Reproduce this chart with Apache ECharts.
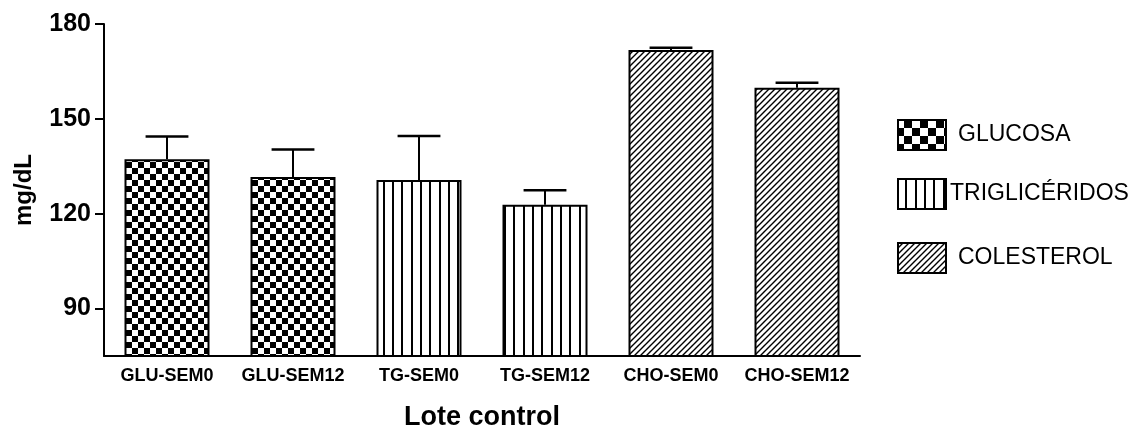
<!DOCTYPE html>
<html><head><meta charset="utf-8">
<script src="https://cdn.jsdelivr.net/npm/echarts@6/dist/echarts.min.js"></script>
<style>html,body{margin:0;padding:0;background:#fff}#c{width:1135px;height:426px}</style>
</head><body><div id="c"></div>
<script>
const categories = ['GLU-SEM0','GLU-SEM12','TG-SEM0','TG-SEM12','CHO-SEM0','CHO-SEM12'];
const groups = ['GLUCOSA','GLUCOSA','TRIGLICÉRIDOS','TRIGLICÉRIDOS','COLESTEROL','COLESTEROL'];
const seriesNames = ['GLUCOSA','TRIGLICÉRIDOS','COLESTEROL'];
const means = [137.2, 131.6, 130.7, 122.8, 171.8, 159.8];
const errorTop = [144.4, 140.3, 144.6, 127.4, 172.5, 161.4];
const yTicks = [90, 120, 150, 180];
const yMin = 75, yMax = 180;

const FONT = '"Liberation Sans", Arial, sans-serif';

function mk(w, h) { const c = document.createElement('canvas'); c.width = w; c.height = h; const x = c.getContext('2d'); x.fillStyle = '#fff'; x.fillRect(0, 0, w, h); return [c, x]; }
function checker(cell) {
  const [c, x] = mk(cell * 2, cell * 2);
  x.fillStyle = '#000'; x.fillRect(0, 0, cell, cell); x.fillRect(cell, cell, cell, cell);
  return c;
}
function vlines() {
  const [c, x] = mk(28, 4);
  x.fillStyle = '#000'; [0, 9, 19].forEach(p => x.fillRect(p, 0, 2, 4));
  return c;
}
function hatch() {
  const [c, x] = mk(6, 6);
  x.strokeStyle = '#000'; x.lineWidth = 1.4; x.beginPath();
  x.moveTo(0, 6); x.lineTo(6, 0); x.moveTo(-1, 1); x.lineTo(1, -1); x.moveTo(5, 7); x.lineTo(7, 5);
  x.stroke();
  return c;
}
const patterns = {
  'GLUCOSA': { image: checker(6), repeat: 'repeat' },
  'TRIGLICÉRIDOS': { image: vlines(), repeat: 'repeat' },
  'COLESTEROL': { image: hatch(), repeat: 'repeat' }
};
const legendPatterns = {
  'GLUCOSA': { image: checker(8), repeat: 'repeat' },
  'TRIGLICÉRIDOS': { image: vlines(), repeat: 'repeat' },
  'COLESTEROL': { image: hatch(), repeat: 'repeat' }
};

const barSeries = seriesNames.map(name => ({
  name, type: 'bar', barWidth: 85, barGap: '-100%',
  data: means.map((v, i) => groups[i] === name ? v : null),
  itemStyle: { color: patterns[name], borderColor: '#000', borderWidth: 2 },
  emphasis: { disabled: true }, z: 2
}));

const errSeries = {
  type: 'custom', z: 3,
  data: means.map((m, i) => [i, m, errorTop[i]]),
  encode: { x: 0, y: [1, 2] },
  renderItem(params, api) {
    const i = api.value(0);
    const b = api.coord([i, api.value(1)]);
    const t = api.coord([i, api.value(2)]);
    const hw = api.size([1, 0])[0] * 0.17;
    return { type: 'group', children: [
      { type: 'line', shape: { x1: b[0], y1: b[1], x2: t[0], y2: t[1] }, style: { stroke: '#000', lineWidth: 2 } },
      { type: 'line', shape: { x1: t[0] - hw, y1: t[1], x2: t[0] + hw, y2: t[1] }, style: { stroke: '#000', lineWidth: 2.5 } }
    ]};
  }
};

const legendY = [120, 179, 243];
const legendTextX = [958, 950, 958];
const legendGraphics = [];
seriesNames.forEach((name, k) => {
  legendGraphics.push({ type: 'rect', shape: { x: 898, y: legendY[k], width: 48, height: 30 },
    style: { fill: legendPatterns[name], stroke: '#000', lineWidth: 2 } });
  legendGraphics.push({ type: 'text', x: legendTextX[k], y: legendY[k] + 15,
    style: { text: name, font: '23px ' + FONT, fill: '#000', textVerticalAlign: 'middle', textAlign: 'left' } });
});

const chart = echarts.init(document.getElementById('c'), null, { renderer: 'canvas' });
chart.setOption({
  animation: false,
  backgroundColor: '#fff',
  grid: { left: 104, right: 275, top: 24, bottom: 70, outerBoundsMode: 'none', containLabel: false },
  xAxis: {
    type: 'category', data: categories,
    axisLine: { onZero: false, lineStyle: { color: '#000', width: 2 } },
    axisTick: { alignWithLabel: true, length: 8, lineStyle: { color: '#000', width: 2 } },
    axisLabel: { interval: 0, color: '#000', fontFamily: FONT, fontWeight: 'bold', fontSize: 18, margin: 11 },
    name: 'Lote control', nameLocation: 'middle', nameGap: 48,
    nameTextStyle: { color: '#000', fontFamily: FONT, fontWeight: 'bold', fontSize: 27 }
  },
  yAxis: {
    type: 'value', min: yMin, max: yMax,
    splitLine: { show: false },
    axisLine: { show: true, lineStyle: { color: '#000', width: 2 } },
    axisTick: { show: true, length: 9, customValues: yTicks, lineStyle: { color: '#000', width: 2 } },
    axisLabel: { color: '#000', fontFamily: FONT, fontWeight: 'bold', fontSize: 25, margin: 13, customValues: yTicks },
    name: 'mg/dL', nameLocation: 'middle', nameGap: 68,
    nameTextStyle: { color: '#000', fontFamily: FONT, fontWeight: 'bold', fontSize: 24 }
  },
  series: [...barSeries, errSeries],
  graphic: legendGraphics
});
</script>
</body></html>
